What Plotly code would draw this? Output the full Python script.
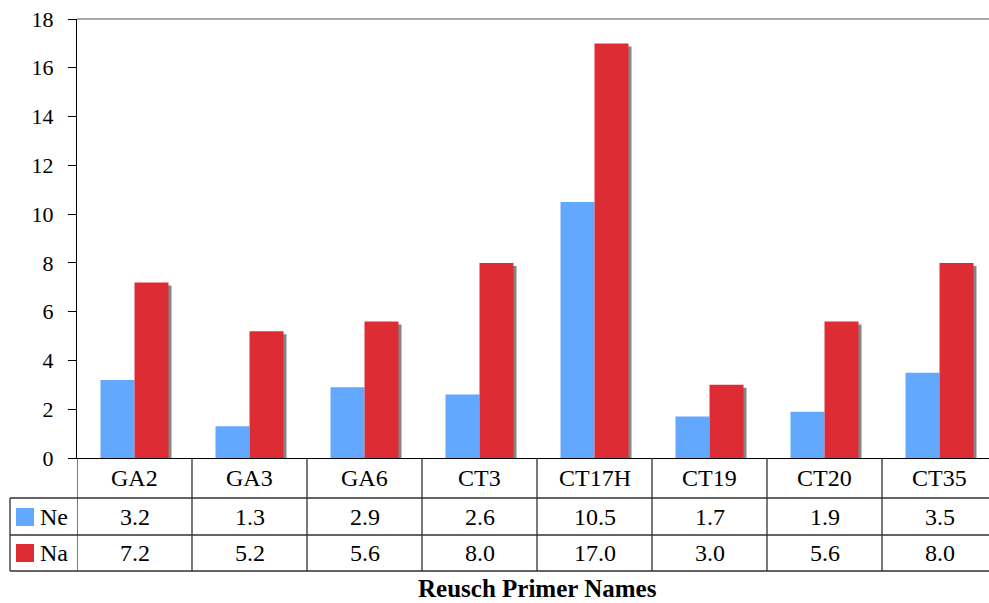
import plotly.graph_objects as go

categories = ["GA2", "GA3", "GA6", "CT3", "CT17H", "CT19", "CT20", "CT35"]
series_names = ["Ne", "Na"]
ne_values = [3.2, 1.3, 2.9, 2.6, 10.5, 1.7, 1.9, 3.5]
na_values = [7.2, 5.2, 5.6, 8.0, 17.0, 3.0, 5.6, 8.0]
colors = ["#62A8FF", "#DD2C33"]
x_title = "Reusch Primer Names"
y_ticks = [0, 2, 4, 6, 8, 10, 12, 14, 16, 18]

W, H = 989, 603
FONT = "Times New Roman, Liberation Serif, serif"

# layout geometry (pixels)
ax_left = 77
cat_w = 115
y0_px, y18_px = 458, 19
n = len(categories)
vis_cats = (W - ax_left) / cat_w
bw = 34 / cat_w
shadow_dx = 3 / cat_w
shadow_dy = 3 * 18 / (y0_px - y18_px)

def py(p):
    return 1 - p / H

fig = go.Figure()
# shadow behind red bars
fig.add_trace(go.Bar(x=categories, y=[v - shadow_dy for v in na_values],
                     offset=shadow_dx, width=bw, marker=dict(color="#858585", line=dict(width=0)),
                     hoverinfo="skip", showlegend=False))
fig.add_trace(go.Bar(x=categories, y=ne_values, name=series_names[0], offset=-bw, width=bw,
                     marker=dict(color=colors[0], line=dict(width=0)), showlegend=False))
fig.add_trace(go.Bar(x=categories, y=na_values, name=series_names[1], offset=0, width=bw,
                     marker=dict(color=colors[1], line=dict(width=0)), showlegend=False))

shapes = []
annotations = []
row_lines = [498, 535, 571]
line_col = "#303030"
# top border line of plot
shapes.append(dict(type="line", xref="paper", yref="paper", x0=ax_left / W, x1=1,
                   y0=py(y18_px), y1=py(y18_px), line=dict(color="#8C8C8C", width=1.3)))
# vertical column lines of table
for i in range(n + 1):
    shapes.append(dict(type="line", xref="x", yref="paper", x0=i - 0.5, x1=i - 0.5,
                       y0=py(y0_px), y1=py(571), line=dict(color=line_col, width=1.3)))
# horizontal lines
for r in row_lines:
    shapes.append(dict(type="line", xref="paper", yref="paper", x0=10 / W, x1=1,
                       y0=py(r), y1=py(r), line=dict(color=line_col, width=1.3)))
# legend column left border
shapes.append(dict(type="line", xref="paper", yref="paper", x0=10 / W, x1=10 / W,
                   y0=py(498), y1=py(571), line=dict(color=line_col, width=1.3)))

txt_font = dict(family=FONT, size=24, color="black")
# header row
for c in categories:
    annotations.append(dict(x=c, y=py(478), xref="x", yref="paper", text=c, showarrow=False,
                            xanchor="center", yanchor="middle", font=txt_font))
rows = [ne_values, na_values]
row_y = [517, 553]
for vals, yy, name, col in zip(rows, row_y, series_names, colors):
    for c, v in zip(categories, vals):
        annotations.append(dict(x=c, y=py(yy), xref="x", yref="paper", text=f"{v:.1f}",
                                showarrow=False, xanchor="center", yanchor="middle", font=txt_font))
    shapes.append(dict(type="rect", xref="paper", yref="paper", x0=16 / W, x1=34 / W,
                       y0=py(yy + 9), y1=py(yy - 9), fillcolor=col, line=dict(width=0)))
    annotations.append(dict(x=38 / W, y=py(yy), xref="paper", yref="paper", text=name,
                            xanchor="left", yanchor="middle", showarrow=False, font=txt_font))

annotations.append(dict(x=(ax_left + ax_left + n * cat_w) / 2 / W,
                        y=0, xref="paper", yref="paper", text=f"<b>{x_title}</b>",
                        xanchor="center", yanchor="bottom", borderpad=0,
                        showarrow=False, font=dict(family=FONT, size=25, color="black")))

fig.update_layout(
    width=W, height=H, margin=dict(l=0, r=0, t=0, b=0, autoexpand=False),
    paper_bgcolor="white", plot_bgcolor="white",
    barmode="overlay",
    shapes=shapes, annotations=annotations,
    xaxis=dict(domain=[ax_left / W, 1], range=[-0.5, -0.5 + vis_cats],
               showticklabels=False, ticks="", showgrid=False, zeroline=False,
               showline=True, linecolor="black", linewidth=1.3, automargin=False),
    yaxis=dict(domain=[py(y0_px), py(y18_px)], range=[0, 18], tickvals=y_ticks,
               ticks="outside", ticklen=8, tickcolor="black", tickwidth=1.3,
               showline=True, linecolor="black", linewidth=1.3, automargin=False,
               showgrid=False, zeroline=False, ticklabelstandoff=10,
               tickfont=dict(family=FONT, size=22, color="black")),
)

fig.write_html("out.html", config={"displayModeBar": False},
               post_script="document.body.style.margin='0';document.body.style.overflow='hidden';")
